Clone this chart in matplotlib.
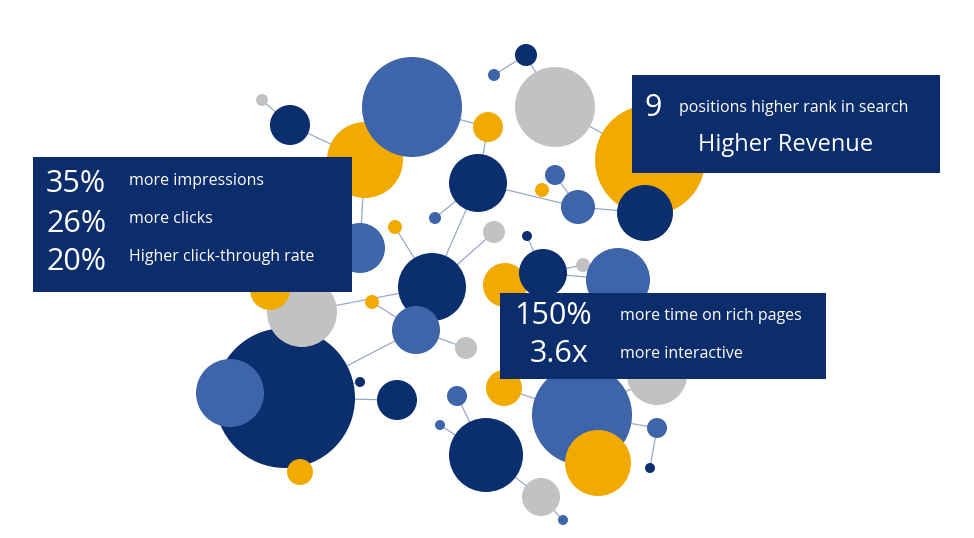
import matplotlib.pyplot as plt
from matplotlib.patches import Circle, Rectangle

NAVY = "#0b2f6e"
BLUE = "#3e64a9"
GOLD = "#f1ab00"
GRAY = "#c2c2c2"
BOX = "#0c2d6b"

# circles: centre x, centre y, radius (pixels), colour
cx = [285, 230, 300, 302, 270, 360, 365, 290, 262, 412, 488, 555, 526, 494, 478,
      650, 645, 578, 555, 542, 435, 494, 527, 432, 416, 395, 372, 466, 360, 397,
      505, 543, 583, 618, 657, 582, 598, 657, 650, 504, 457, 486, 440, 541, 563, 531]
cy = [398, 393, 472, 312, 290, 248, 160, 125, 100, 107, 127, 107, 55, 75, 183,
      160, 213, 207, 175, 190, 218, 232, 236, 287, 330, 227, 302, 348, 382, 400,
      285, 273, 265, 280, 375, 415, 463, 428, 468, 388, 396, 455, 425, 497, 520, 338]
cr = [70, 34, 13, 35, 20, 25, 38, 20, 6, 50, 15, 40, 11, 6, 29,
      55, 28, 17, 10, 7, 6, 11, 5, 34, 24, 7, 7, 11, 5, 20,
      22, 24, 7, 32, 30, 50, 33, 10, 5, 18, 10, 37, 5, 19, 5, 5]
cc = [NAVY, BLUE, GOLD, GRAY, GOLD, BLUE, GOLD, NAVY, GRAY, BLUE, GOLD, GRAY, NAVY, BLUE, NAVY,
      GOLD, NAVY, BLUE, BLUE, GOLD, BLUE, GRAY, NAVY, NAVY, BLUE, GOLD, GOLD, GRAY, NAVY, NAVY,
      GOLD, NAVY, GRAY, BLUE, GRAY, BLUE, GOLD, BLUE, NAVY, GOLD, BLUE, NAVY, BLUE, GRAY, BLUE, NAVY]

# connectors between circle indices
links = [(0, 29), (0, 28), (7, 8), (7, 6), (9, 10), (12, 13), (12, 11), (14, 10),
         (14, 20), (14, 17), (17, 18), (17, 16), (23, 24), (24, 27), (24, 26), (23, 25),
         (24, 0), (31, 32), (31, 30), (31, 33), (35, 34), (35, 37), (37, 38), (41, 40),
         (41, 42), (41, 43), (43, 44), (39, 35), (33, 34), (31, 45), (21, 23), (14, 23),
         (5, 6), (3, 23), (11, 15), (22, 31)]

boxes = [(33, 157, 319, 135), (632, 75, 308, 98), (500, 293, 326, 86)]
big_text = [("35%", 46, 184), ("26%", 46, 224), ("20%", 46, 262),
            ("9", 644, 108), ("150%", 514, 316), ("3.6x", 530, 354)]
small_text = [("more impressions", 129, 181), ("more clicks", 129, 219),
              ("Higher click-through rate", 129, 257),
              ("positions higher rank in search", 679, 108),
              ("more time on rich pages", 620, 316), ("more interactive", 620, 354)]

fig = plt.figure(figsize=(9.74, 5.38), dpi=100)
ax = fig.add_axes([0, 0, 1, 1])
ax.set_xlim(0, 974)
ax.set_ylim(538, 0)
ax.set_aspect("equal")
ax.axis("off")

for a, b in links:
    ax.plot([cx[a], cx[b]], [cy[a], cy[b]], color="#9aa8c8", lw=0.9, zorder=1)
for x, y, r, c in zip(cx, cy, cr, cc):
    ax.add_patch(Circle((x, y), r, color=c, lw=0, zorder=2))

for x, y, w, h in boxes:
    ax.add_patch(Rectangle((x, y), w, h, color=BOX, lw=0, zorder=3))
for t, x, y in big_text:
    ax.text(x, y, t, color="white", fontsize=22, family="Open Sans",
            va="center", ha="left", zorder=4)
for t, x, y in small_text:
    ax.text(x, y, t, color="white", fontsize=11.5, family="Open Sans",
            va="center", ha="left", zorder=4)
ax.text(786, 145, "Higher Revenue", color="white", fontsize=17, family="Open Sans",
        va="center", ha="center", zorder=4)

fig.savefig("out.png", dpi=100, facecolor="white")
